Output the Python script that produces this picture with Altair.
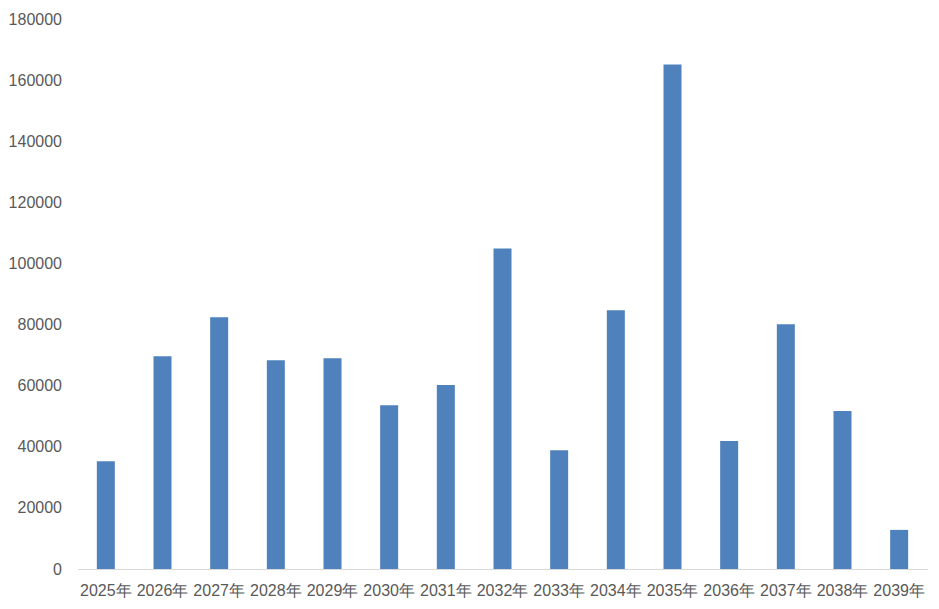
import altair as alt
import pandas as pd

years = ["2025年", "2026年", "2027年", "2028年", "2029年", "2030年", "2031年", "2032年",
         "2033年", "2034年", "2035年", "2036年", "2037年", "2038年", "2039年"]
values = [35300, 69600, 82400, 68300, 69000, 53600, 60200, 104900,
          38900, 84700, 165100, 41900, 80100, 51700, 12800]
y_ticks = [0, 20000, 40000, 60000, 80000, 100000, 120000, 140000, 160000, 180000]

df = pd.DataFrame({"year": years, "value": values})

chart = alt.Chart(df).mark_bar(size=18, color="#4f81bd").encode(
    x=alt.X("year:N", sort=years, title=None,
            scale=alt.Scale(paddingInner=0, paddingOuter=0),
            axis=alt.Axis(labelAngle=0, labelFont="Liberation Sans", labelFontSize=16,
                          labelColor="#595959", labelPadding=13, ticks=False,
                          domainColor="#d9d9d9", domainWidth=1.2,
                          labelOverlap=False, labelBound=False)),
    y=alt.Y("value:Q", title=None,
            scale=alt.Scale(domain=[0, 180000], nice=False),
            axis=alt.Axis(values=y_ticks, format="d", grid=False, domain=False, ticks=False,
                          labelFont="Liberation Sans", labelFontSize=16,
                          labelColor="#595959", labelPadding=16)),
).properties(
    width=850, height=550,
    autosize=alt.AutoSizeParams(type="none"),
    padding={"left": 69.5, "top": 11, "right": 3, "bottom": 32},
).configure_view(stroke=None)

chart.save("out.html", embed_options={"renderer": "svg", "actions": False})
